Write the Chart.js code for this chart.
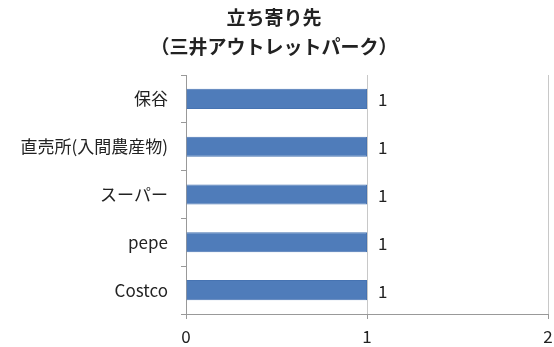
<!DOCTYPE html>
<html>
<head>
<meta charset="utf-8">
<script src="https://cdn.jsdelivr.net/npm/chart.js@4"></script>
<style>
  html, body { margin: 0; padding: 0; background: #fff; }
  #wrap { width: 554px; height: 347px; }
</style>
</head>
<body>
<div id="wrap"><canvas id="chart" width="554" height="347"></canvas></div>
<script>
const titleLines = ['立ち寄り先', '（三井アウトレットパーク）'];
const categories = ['保谷', '直売所(入間農産物)', 'スーパー', 'pepe', 'Costco'];
const counts = [1, 1, 1, 1, 1];
const xTicks = [0, 1, 2];

const FONT = '"Noto Sans CJK JP", "Noto Sans", sans-serif';

// draws the "1" next to each bar
const valueLabels = {
  id: 'valueLabels',
  afterDatasetsDraw(chart) {
    const ctx = chart.ctx;
    const meta = chart.getDatasetMeta(0);
    ctx.save();
    ctx.font = '17px ' + FONT;
    ctx.fillStyle = '#222';
    ctx.textAlign = 'left';
    ctx.textBaseline = 'middle';
    meta.data.forEach((bar, i) => {
      ctx.fillText(String(counts[i]), bar.x + 11, bar.y + 1);
    });
    ctx.restore();
  }
};

new Chart(document.getElementById('chart'), {
  type: 'bar',
  data: {
    labels: categories,
    datasets: [{
      data: counts,
      backgroundColor: '#4f7cba',
      borderColor: '#4673b2',
      borderWidth: 1,
      barPercentage: 0.42,
      categoryPercentage: 1
    }]
  },
  options: {
    indexAxis: 'y',
    responsive: false,
    animation: false,
    layout: { padding: { left: 0, right: 6, top: 0, bottom: 0 } },
    plugins: {
      legend: { display: false },
      tooltip: { enabled: false },
      title: {
        display: true,
        text: titleLines,
        color: '#222',
        font: { family: FONT, size: 19, weight: 'bold', lineHeight: 1.5 },
        padding: { top: 4, bottom: 14 }
      }
    },
    scales: {
      x: {
        min: xTicks[0],
        max: xTicks[xTicks.length - 1],
        afterBuildTicks(scale) {
          scale.ticks = xTicks.map(v => ({ value: v }));
        },
        afterFit(scale) {
          scale.height = 33;
          scale.paddingLeft = 0;
          scale.paddingRight = 0;
        },
        border: { color: '#999', width: 1 },
        grid: {
          color: '#c8c8c8',
          tickColor: '#999',
          tickLength: 5,
          drawOnChartArea: true
        },
        ticks: {
          color: '#222',
          padding: 7,
          font: { family: FONT, size: 17 }
        }
      },
      y: {
        afterFit(scale) { scale.width = 186; },
        border: { color: '#999', width: 1 },
        grid: {
          drawOnChartArea: false,
          tickColor: '#999',
          tickLength: 5
        },
        ticks: {
          color: '#222',
          padding: 13,
          font: { family: FONT, size: 17 }
        }
      }
    }
  },
  plugins: [valueLabels]
});
</script>
</body>
</html>
